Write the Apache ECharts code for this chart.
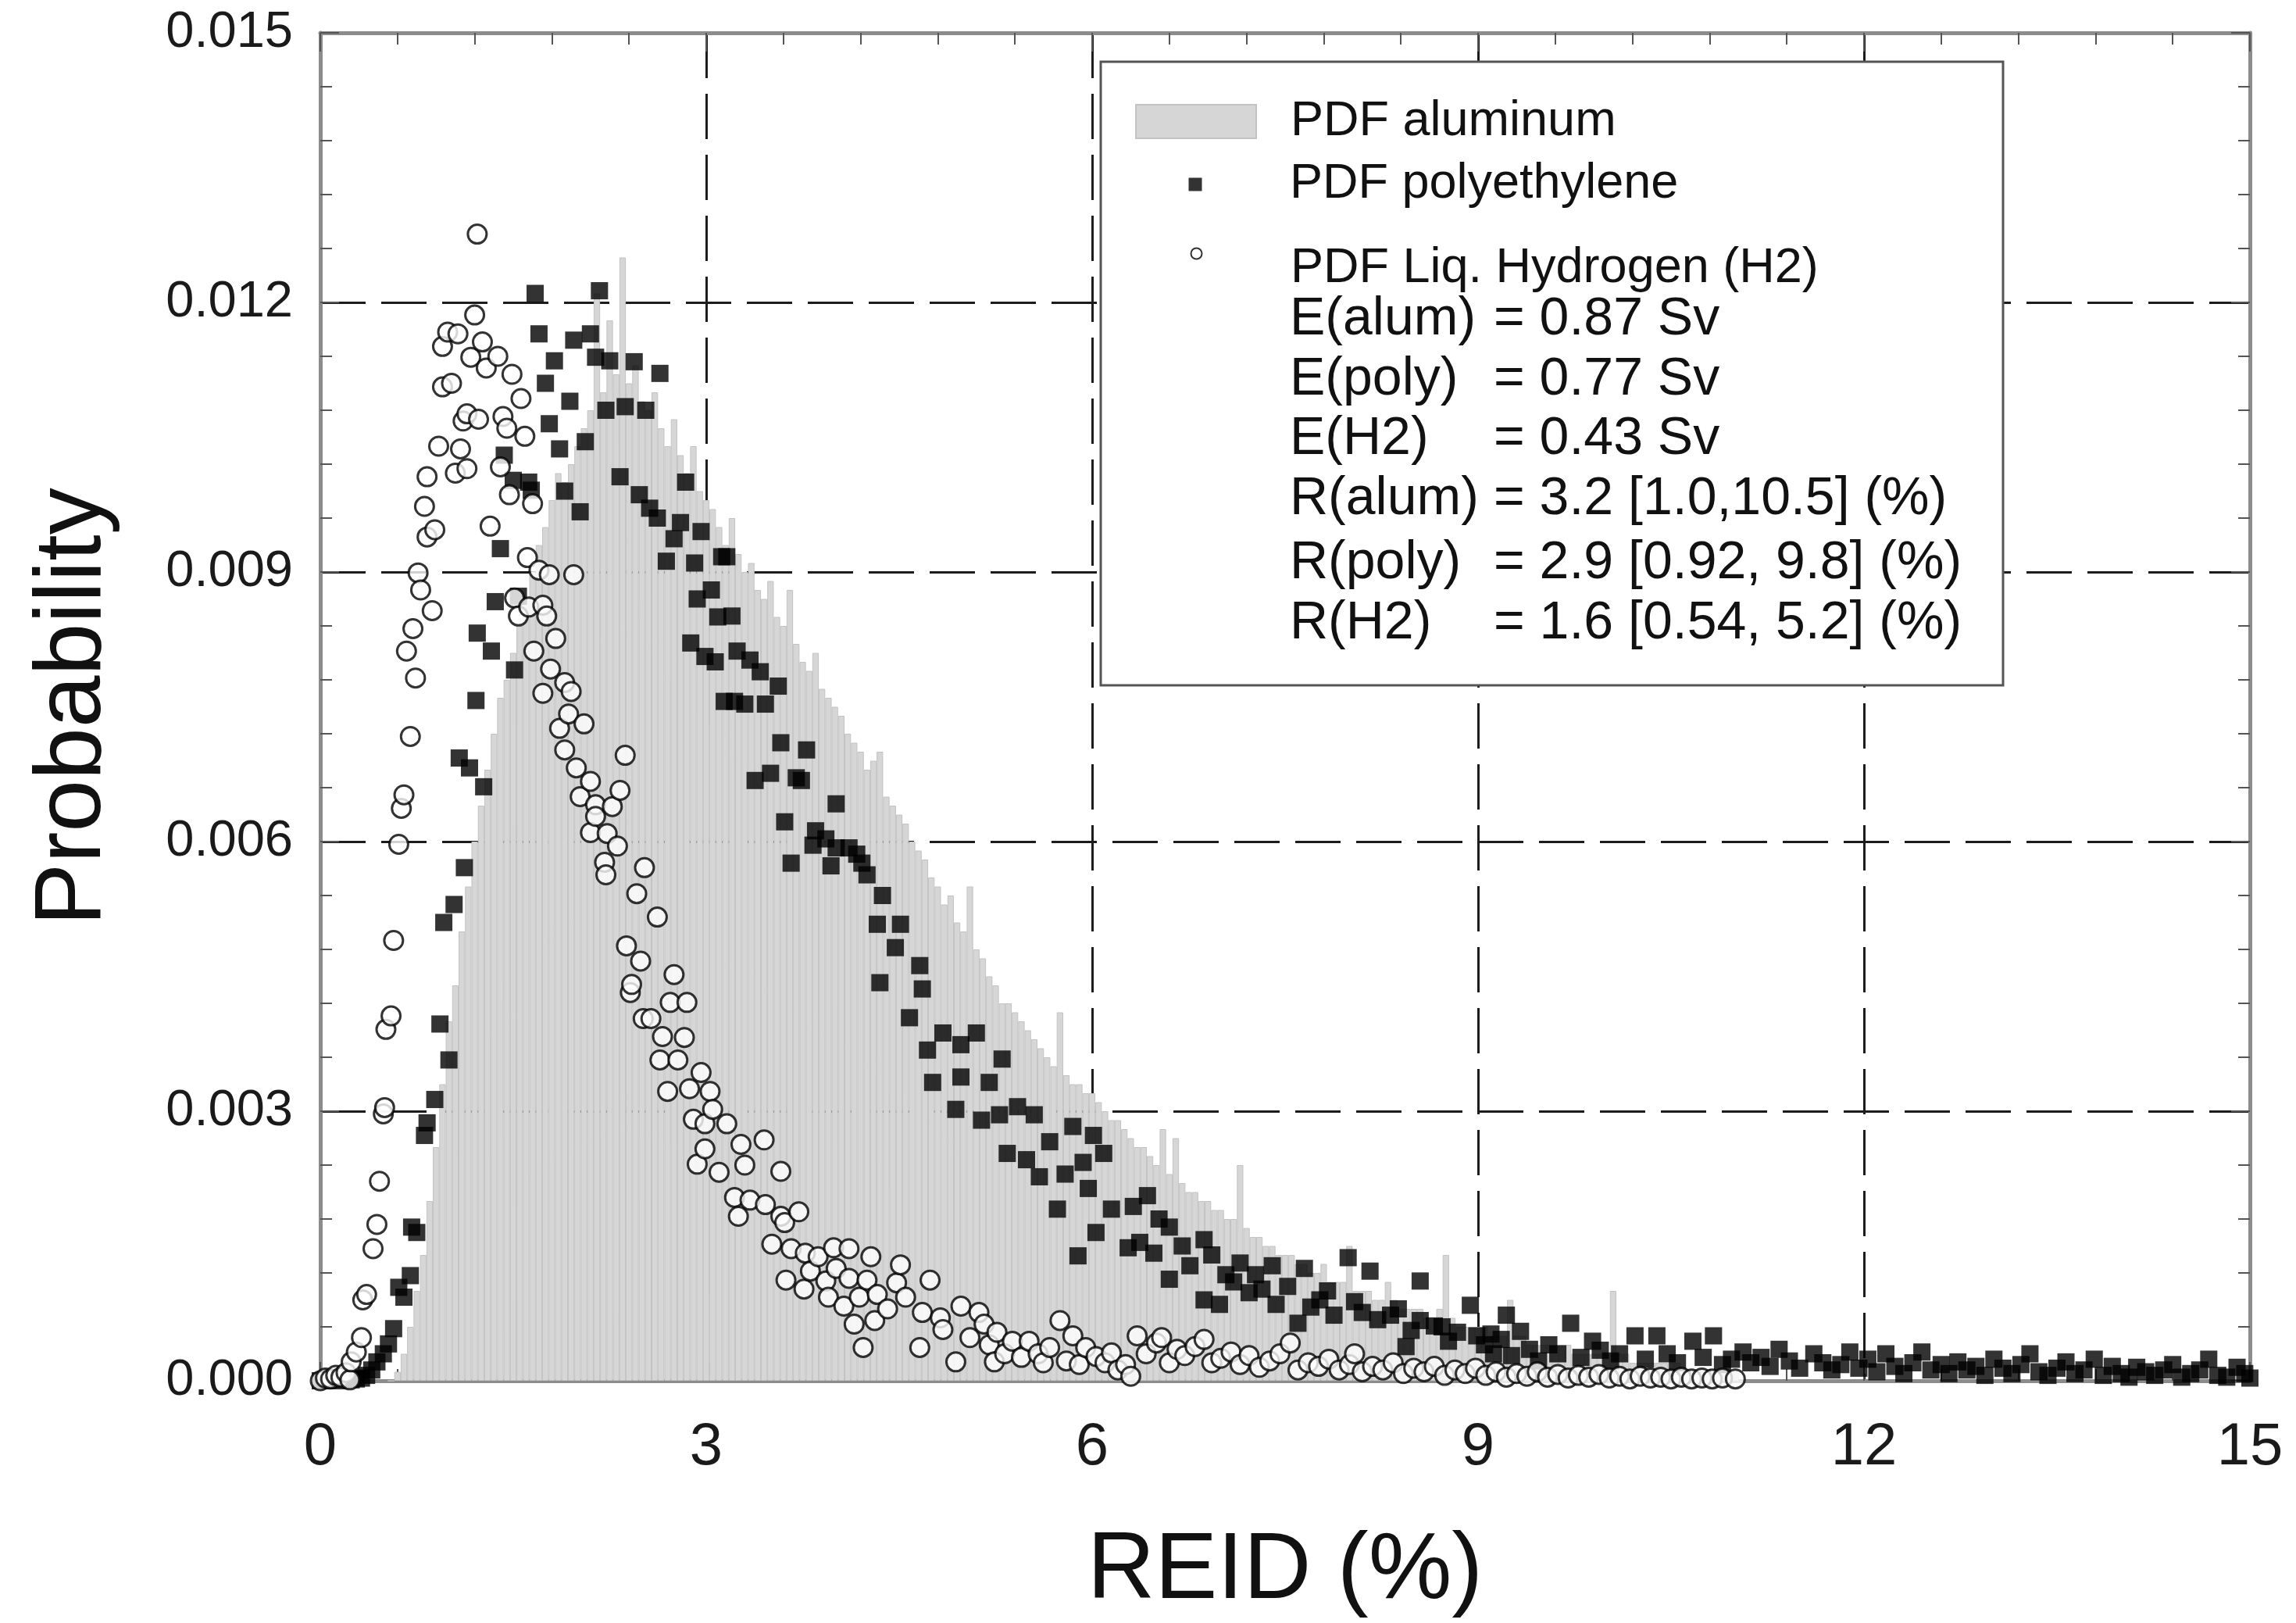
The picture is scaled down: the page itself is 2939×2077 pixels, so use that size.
<!DOCTYPE html>
<html>
<head>
<meta charset="utf-8">
<script src="https://cdn.jsdelivr.net/npm/echarts/dist/echarts.min.js"></script>
<style>
html,body{margin:0;padding:0;background:#ffffff;}
#chart{width:2939px;height:2077px;}
</style>
</head>
<body>
<div id="chart"></div>
<script>
// ---------------- DATA ----------------
const xTickValues = [0, 3, 6, 9, 12, 15];
const yTickLabels = ["0.000", "0.003", "0.006", "0.009", "0.012", "0.015"];

// Aluminum histogram: first bin centre and bin width, then bar heights
const alumBinStart = 0.55;
const alumBinStep = 0.05;
const alumValues = [
  0.0000,0.0001,0.0003,0.0006,0.0010,0.0014,0.0020,0.0026,0.0033,0.0040,
  0.0044,0.0050,0.0055,0.0060,0.0064,0.0068,0.0072,0.0076,0.0078,0.0081,
  0.0084,0.0087,0.0090,0.0093,0.0095,0.0098,0.0101,0.0100,0.0102,0.0104,
  0.0106,0.0108,0.0121,0.0110,0.0118,0.0112,0.0125,0.0111,0.0113,0.0109,
  0.0108,0.0110,0.0106,0.0104,0.0107,0.0103,0.0101,0.0104,0.0099,0.0098,
  0.0097,0.0095,0.0093,0.0096,0.0092,0.0090,0.0091,0.0088,0.0087,0.0089,
  0.0085,0.0084,0.0088,0.0082,0.0080,0.0079,0.0081,0.0077,0.0076,0.0075,
  0.0074,0.0072,0.0071,0.0070,0.0068,0.0069,0.0070,0.0065,0.0064,0.0063,
  0.0062,0.0060,0.0059,0.0058,0.0056,0.0055,0.0053,0.0054,0.0051,0.0050,
  0.0055,0.0048,0.0047,0.0045,0.0044,0.0042,0.0042,0.0041,0.0040,0.0039,
  0.0038,0.0037,0.0036,0.0035,0.0041,0.0034,0.0033,0.0033,0.0032,0.0032,
  0.0031,0.0030,0.0029,0.0029,0.0028,0.0027,0.0026,0.0026,0.0025,0.0024,
  0.0028,0.0023,0.0027,0.0022,0.0021,0.0021,0.0020,0.0020,0.0019,0.0019,
  0.0018,0.0018,0.0024,0.0017,0.0016,0.0016,0.0015,0.0015,0.0014,0.0014,
  0.0014,0.0013,0.0013,0.0012,0.0012,0.0013,0.0011,0.0011,0.0011,0.0015,
  0.0010,0.0010,0.0010,0.0009,0.0009,0.0011,0.0009,0.0008,0.0008,0.0008,
  0.0008,0.0007,0.0007,0.0008,0.0014,0.0007,0.0006,0.0006,0.0006,0.0006,
  0.0006,0.0005,0.0005,0.0005,0.0009,0.0005,0.0005,0.0004,0.0004,0.0004,
  0.0004,0.0004,0.0004,0.0004,0.0003,0.0003,0.0003,0.0003,0.0003,0.0003,
  0.0010,0.0003,0.0003,0.0002,0.0002,0.0002,0.0002,0.0002,0.0002,0.0002,
  0.0002,0.0001,0.0001,0.0001,0.0001,0.0001,0.0001,0.0001,0.0001,0.0001
];

// Polyethylene PDF points [REID %, probability]
const polyPoints = [
  [0.00,0.00000],[0.03,0.00000],[0.06,0.00001],[0.10,0.00002],[0.14,0.00000],[0.18,0.00002],
  [0.24,0.00001],[0.28,0.00002],[0.32,0.00003],[0.36,0.00006],[0.40,0.00012],[0.44,0.00021],
  [0.49,0.00030],[0.53,0.00041],[0.57,0.00058],[0.61,0.00104],[0.65,0.00093],[0.70,0.00117],
  [0.71,0.00171],[0.75,0.00165],[0.81,0.00273],[0.83,0.00287],[0.89,0.00313],[0.93,0.00397],
  [0.96,0.00510],[1.00,0.00357],[1.04,0.00530],[1.08,0.00693],[1.12,0.00571],[1.16,0.00682],
  [1.21,0.00757],[1.22,0.00832],[1.27,0.00661],[1.33,0.00812],[1.36,0.00867],[1.40,0.00926],
  [1.43,0.01030],[1.50,0.01002],[1.51,0.00791],[1.54,0.00873],[1.62,0.01000],[1.64,0.00991],
  [1.67,0.01210],[1.70,0.01165],[1.75,0.01110],[1.78,0.01065],[1.82,0.01135],[1.86,0.01037],
  [1.90,0.00990],[1.94,0.01090],[1.97,0.01158],[2.02,0.00967],[2.06,0.01045],[2.10,0.01165],
  [2.14,0.01139],[2.17,0.01213],[2.22,0.01080],[2.25,0.01135],[2.33,0.01006],[2.37,0.01084],
  [2.44,0.01134],[2.48,0.00986],[2.53,0.01080],[2.56,0.00971],[2.62,0.00960],[2.64,0.01121],
  [2.69,0.00912],[2.75,0.00937],[2.80,0.00955],[2.84,0.01000],[2.88,0.00821],[2.91,0.00910],
  [2.93,0.00870],[2.96,0.00945],[2.99,0.00806],[3.04,0.00880],[3.07,0.00800],[3.09,0.00850],
  [3.12,0.00917],[3.14,0.00756],[3.16,0.00917],[3.20,0.00851],[3.22,0.00756],[3.24,0.00812],
  [3.30,0.00753],[3.34,0.00802],[3.38,0.00668],[3.42,0.00789],[3.46,0.00753],[3.50,0.00676],
  [3.56,0.00773],[3.58,0.00710],[3.61,0.00622],[3.66,0.00576],[3.70,0.00671],[3.74,0.00668],
  [3.78,0.00702],[3.83,0.00596],[3.85,0.00612],[3.93,0.00603],[3.97,0.00573],[4.01,0.00642],
  [4.01,0.00593],[4.11,0.00593],[4.17,0.00586],[4.21,0.00576],[4.25,0.00563],[4.33,0.00508],
  [4.35,0.00443],[4.37,0.00540],[4.47,0.00482],[4.51,0.00508],[4.58,0.00404],[4.66,0.00462],
  [4.68,0.00436],[4.72,0.00368],[4.76,0.00332],[4.84,0.00387],[4.94,0.00302],[4.98,0.00374],
  [4.98,0.00338],[5.10,0.00387],[5.14,0.00290],[5.20,0.00332],[5.28,0.00296],[5.30,0.00358],
  [5.34,0.00253],[5.42,0.00305],[5.49,0.00246],[5.55,0.00296],[5.59,0.00227],[5.67,0.00266],
  [5.73,0.00191],[5.79,0.00230],[5.85,0.00283],[5.89,0.00139],[5.93,0.00243],[5.97,0.00214],
  [6.01,0.00273],[6.03,0.00165],[6.09,0.00253],[6.15,0.00191],[6.28,0.00148],[6.32,0.00194],
  [6.37,0.00154],[6.43,0.00206],[6.48,0.00142],[6.52,0.00180],[6.60,0.00171],[6.60,0.00113],
  [6.70,0.00150],[6.76,0.00128],[6.87,0.00157],[6.87,0.00090],[6.93,0.00140],[6.99,0.00085],
  [7.04,0.00118],[7.10,0.00110],[7.15,0.00131],[7.22,0.00098],[7.27,0.00118],[7.32,0.00102],
  [7.40,0.00128],[7.43,0.00085],[7.52,0.00105],[7.60,0.00064],[7.65,0.00125],[7.70,0.00082],
  [7.77,0.00090],[7.83,0.00100],[7.88,0.00073],[7.99,0.00137],[8.04,0.00088],[8.10,0.00076],
  [8.16,0.00122],[8.22,0.00068],[8.32,0.00073],[8.38,0.00080],[8.44,0.00038],[8.48,0.00056],
  [8.55,0.00111],[8.55,0.00067],[8.66,0.00061],[8.72,0.00060],[8.77,0.00044],[8.84,0.00054],
  [8.94,0.00084],[8.99,0.00050],[9.05,0.00040],[9.10,0.00052],[9.12,0.00030],[9.18,0.00046],
  [9.22,0.00073],[9.26,0.00028],[9.33,0.00055],[9.40,0.00035],[9.47,0.00022],[9.55,0.00040],
  [9.62,0.00030],[9.72,0.00064],[9.80,0.00026],[9.89,0.00044],[9.95,0.00034],[10.03,0.00022],
  [10.10,0.00030],[10.22,0.00050],[10.30,0.00024],[10.39,0.00050],[10.47,0.00030],[10.55,0.00020],
  [10.67,0.00044],[10.75,0.00026],[10.83,0.00050],[10.90,0.00018],[10.97,0.00024],[11.06,0.00032],
  [11.12,0.00020],[11.20,0.00026],[11.27,0.00016],[11.34,0.00035],[11.42,0.00022],[11.50,0.00014],
  [11.61,0.00030],[11.68,0.00020],[11.75,0.00012],[11.82,0.00018],[11.89,0.00032],[11.96,0.00014],
  [12.03,0.00024],[12.10,0.00010],[12.17,0.00030],[12.24,0.00016],[12.31,0.00008],[12.38,0.00020],
  [12.45,0.00032],[12.52,0.00012],[12.60,0.00018],[12.66,0.00008],[12.73,0.00021],[12.80,0.00012],
  [12.87,0.00016],[12.94,0.00006],[13.01,0.00024],[13.08,0.00014],[13.15,0.00008],[13.22,0.00018],
  [13.29,0.00030],[13.36,0.00010],[13.43,0.00006],[13.50,0.00014],[13.57,0.00021],[13.64,0.00008],
  [13.71,0.00012],[13.79,0.00024],[13.86,0.00006],[13.93,0.00016],[14.00,0.00008],[14.06,0.00004],
  [14.12,0.00015],[14.19,0.00010],[14.26,0.00006],[14.33,0.00012],[14.40,0.00018],[14.47,0.00004],
  [14.54,0.00008],[14.61,0.00012],[14.68,0.00024],[14.75,0.00006],[14.82,0.00004],[14.90,0.00015],
  [14.96,0.00008],[15.00,0.00003]
];

// Liquid hydrogen PDF points [REID %, probability]
const h2Points = [
  [0.00,0.00000],[0.04,0.00003],[0.08,0.00002],[0.12,0.00006],[0.16,0.00004],[0.20,0.00009],
  [0.23,0.00001],[0.24,0.00021],[0.28,0.00032],[0.32,0.00048],[0.33,0.00090],[0.36,0.00096],
  [0.41,0.00147],[0.44,0.00174],[0.46,0.00222],[0.49,0.00297],[0.50,0.00304],[0.51,0.00391],
  [0.55,0.00406],[0.57,0.00490],[0.61,0.00597],[0.63,0.00637],[0.65,0.00652],[0.67,0.00812],
  [0.70,0.00717],[0.72,0.00837],[0.74,0.00782],[0.76,0.00899],[0.78,0.00880],[0.81,0.00973],
  [0.83,0.01006],[0.83,0.00939],[0.87,0.00857],[0.89,0.00947],[0.92,0.01040],[0.95,0.01151],
  [0.95,0.01106],[0.99,0.01167],[1.02,0.01110],[1.05,0.01010],[1.07,0.01165],[1.09,0.01037],
  [1.11,0.01068],[1.14,0.01076],[1.14,0.01015],[1.17,0.01139],[1.20,0.01186],[1.22,0.01276],
  [1.23,0.01070],[1.26,0.01156],[1.29,0.01127],[1.32,0.00951],[1.38,0.01140],[1.40,0.01017],
  [1.42,0.01073],[1.45,0.01060],[1.47,0.00986],[1.49,0.01120],[1.51,0.00871],[1.54,0.00851],
  [1.56,0.01093],[1.59,0.01051],[1.61,0.00916],[1.62,0.00861],[1.65,0.00976],[1.66,0.00812],
  [1.70,0.00902],[1.73,0.00863],[1.73,0.00765],[1.76,0.00851],[1.78,0.00897],[1.79,0.00792],
  [1.83,0.00826],[1.86,0.00726],[1.90,0.00777],[1.90,0.00702],[1.93,0.00742],[1.95,0.00767],
  [1.97,0.00897],[1.99,0.00682],[2.02,0.00650],[2.05,0.00731],[2.10,0.00667],[2.10,0.00610],
  [2.14,0.00641],[2.14,0.00628],[2.21,0.00577],[2.22,0.00563],[2.23,0.00609],[2.27,0.00639],
  [2.31,0.00595],[2.33,0.00657],[2.37,0.00696],[2.38,0.00484],[2.41,0.00432],[2.42,0.00441],
  [2.46,0.00542],[2.49,0.00467],[2.51,0.00403],[2.52,0.00571],[2.57,0.00403],[2.62,0.00516],
  [2.64,0.00357],[2.66,0.00383],[2.70,0.00322],[2.72,0.00421],[2.75,0.00452],[2.78,0.00357],
  [2.83,0.00382],[2.85,0.00421],[2.87,0.00325],[2.90,0.00291],[2.93,0.00241],[2.96,0.00343],
  [2.99,0.00286],[2.99,0.00258],[3.03,0.00322],[3.05,0.00302],[3.10,0.00232],[3.16,0.00286],
  [3.22,0.00204],[3.25,0.00183],[3.27,0.00263],[3.30,0.00240],[3.34,0.00201],[3.45,0.00268],
  [3.46,0.00196],[3.51,0.00152],[3.58,0.00233],[3.58,0.00183],[3.61,0.00176],[3.62,0.00112],
  [3.66,0.00147],[3.72,0.00188],[3.76,0.00102],[3.77,0.00142],[3.81,0.00122],[3.87,0.00138],
  [3.93,0.00111],[3.95,0.00093],[3.99,0.00148],[4.01,0.00125],[4.07,0.00083],[4.11,0.00147],
  [4.11,0.00114],[4.15,0.00063],[4.19,0.00093],[4.22,0.00037],[4.25,0.00112],[4.28,0.00138],
  [4.31,0.00067],[4.33,0.00096],[4.41,0.00080],[4.48,0.00109],[4.51,0.00129],[4.55,0.00093],
  [4.66,0.00037],[4.68,0.00076],[4.74,0.00112],[4.82,0.00070],[4.84,0.00057],[4.94,0.00021],
  [4.98,0.00083],[5.05,0.00048],[5.12,0.00076],[5.16,0.00063],[5.20,0.00040],[5.24,0.00021],
  [5.26,0.00054],[5.32,0.00030],[5.38,0.00044],[5.45,0.00026],[5.51,0.00044],[5.58,0.00030],
  [5.62,0.00020],[5.67,0.00037],[5.75,0.00067],[5.80,0.00022],[5.85,0.00050],[5.90,0.00018],
  [5.95,0.00037],[6.03,0.00027],[6.10,0.00020],[6.15,0.00031],[6.20,0.00012],[6.26,0.00018],
  [6.30,0.00005],[6.35,0.00050],[6.42,0.00030],[6.50,0.00042],[6.54,0.00048],[6.60,0.00020],
  [6.66,0.00035],[6.72,0.00028],[6.80,0.00038],[6.87,0.00046],[6.93,0.00020],[7.00,0.00025],
  [7.08,0.00032],[7.15,0.00018],[7.22,0.00028],[7.30,0.00015],[7.38,0.00022],[7.46,0.00030],
  [7.54,0.00042],[7.60,0.00012],[7.68,0.00020],[7.76,0.00016],[7.84,0.00024],[7.92,0.00012],
  [8.00,0.00018],[8.04,0.00030],[8.10,0.00010],[8.18,0.00016],[8.26,0.00012],[8.34,0.00020],
  [8.42,0.00008],[8.50,0.00014],[8.58,0.00010],[8.66,0.00016],[8.74,0.00006],[8.82,0.00012],
  [8.90,0.00008],[8.98,0.00014],[9.06,0.00006],[9.14,0.00010],[9.22,0.00004],[9.30,0.00008],
  [9.38,0.00005],[9.46,0.00010],[9.54,0.00004],[9.62,0.00007],[9.70,0.00003],[9.78,0.00006],
  [9.86,0.00004],[9.94,0.00007],[10.02,0.00003],[10.10,0.00005],[10.18,0.00002],[10.26,0.00005],
  [10.34,0.00003],[10.42,0.00004],[10.50,0.00002],[10.58,0.00004],[10.66,0.00002],[10.74,0.00003],
  [10.82,0.00002],[10.90,0.00003],[11.00,0.00002]
];

const seriesNames = ["PDF aluminum", "PDF polyethylene", "PDF Liq. Hydrogen (H2)"];
const statLabels = ["E(alum)", "E(poly)", "E(H2)", "R(alum)", "R(poly)", "R(H2)"];
const statValues = ["= 0.87 Sv", "= 0.77 Sv", "= 0.43 Sv",
                    "= 3.2 [1.0,10.5] (%)", "= 2.9 [0.92, 9.8] (%)", "= 1.6 [0.54, 5.2] (%)"];
const xAxisTitle = "REID (%)";
const yAxisTitle = "Probability";

// ---------------- BUILD ----------------
const alumData = alumValues.map((v, i) => [+(alumBinStart + i * alumBinStep).toFixed(3), v]);

const W = 2939, H = 2077;
const G = {left: 410, top: 42, right: 59, bottom: 310};
const plotW = W - G.left - G.right;
const xMin = 0, xMax = 15;
const barPx = plotW * alumBinStep / (xMax - xMin);

const FONT = '"Liberation Sans", Arial, Helvetica, sans-serif';
const frameColor = '#8c8c8c';
const tickColor = '#555555';
const gridColor = '#1c1c1c';

const axisTick = {show: true, inside: true, length: 24, lineStyle: {color: tickColor, width: 2}};
const minorTick = {show: true, splitNumber: 5, length: 15, lineStyle: {color: tickColor, width: 2}};
const axisLine = {show: true, onZero: false, lineStyle: {color: frameColor, width: 5}};
const splitLine = {show: true, showMinLine: false, showMaxLine: false,
                   lineStyle: {color: gridColor, width: 3, type: [58, 20]}};

const chart = echarts.init(document.getElementById('chart'), null, {renderer: 'canvas', width: W, height: H});

// legend box text lines
const statBaselines = [432, 509, 585, 662, 744, 821];
const statFontSize = 68;
const graphicEls = [{
  type: 'rect', z: 10,
  shape: {x: 1409, y: 79, width: 1155, height: 798},
  style: {fill: '#ffffff', stroke: '#555555', lineWidth: 3}
}];
statLabels.forEach((lab, i) => {
  const yMid = statBaselines[i] - 0.33 * statFontSize;
  graphicEls.push({type: 'text', z: 20, x: 1651, y: yMid,
    style: {text: lab, font: statFontSize + 'px ' + FONT, fill: '#111111', align: 'left', verticalAlign: 'middle'}});
  graphicEls.push({type: 'text', z: 20, x: 1912, y: yMid,
    style: {text: statValues[i], font: statFontSize + 'px ' + FONT, fill: '#111111', align: 'left', verticalAlign: 'middle'}});
});

const legendText = {fontSize: 63, fontFamily: FONT, color: '#111111', lineHeight: 63};

const option = {
  animation: false,
  backgroundColor: '#ffffff',
  grid: {left: G.left, top: G.top, right: G.right, bottom: G.bottom, containLabel: false, outerBoundsMode: 'none'},
  legend: [
    {data: [seriesNames[0]], left: 1453, top: 124, itemWidth: 154, itemHeight: 43, icon: 'rect',
     selectedMode: false, padding: 0, itemGap: 0, z: 20,
     textStyle: Object.assign({}, legendText, {padding: [0, 0, 0, 39]})},
    {data: [seriesNames[1]], left: 1521.5, top: 204.5, itemWidth: 17, itemHeight: 17,
     selectedMode: false, padding: 0, itemGap: 0, z: 20,
     textStyle: Object.assign({}, legendText, {padding: [0, 0, 0, 107.5]})},
    {data: [seriesNames[2]], left: 1523.5, top: 288, itemWidth: 14, itemHeight: 14,
     selectedMode: false, padding: 0, itemGap: 0, z: 20,
     formatter: name => '{s| }\n{t|' + name + '}',
     textStyle: {padding: [0, 0, 0, 108.5], fontSize: 63, fontFamily: FONT, color: '#111111',
       rich: {s: {fontSize: 10, lineHeight: 38},
              t: {fontSize: 63, fontFamily: FONT, color: '#111111', lineHeight: 63}}}}
  ],
  xAxis: [
    {type: 'value', position: 'bottom', min: xMin, max: xMax, interval: 3,
     axisLine, axisTick, minorTick, splitLine,
     axisLabel: {show: true, margin: 48, fontSize: 76, fontFamily: FONT, color: '#1a1a1a',
                 formatter: v => String(xTickValues[xTickValues.indexOf(v)] ?? v)},
     name: xAxisTitle, nameLocation: 'middle', nameGap: 185, nameMoveOverlap: false,
     nameTextStyle: {fontSize: 120, fontFamily: FONT, color: '#111111'}},
    {type: 'value', position: 'top', min: xMin, max: xMax, interval: 3,
     axisLine, axisTick, minorTick, splitLine: {show: false}, axisLabel: {show: false}}
  ],
  yAxis: [
    {type: 'value', position: 'left', min: 0, max: 0.015, interval: 0.003,
     axisLine, axisTick, minorTick, splitLine,
     axisLabel: {show: true, margin: 35, fontSize: 65, fontFamily: FONT, color: '#1a1a1a',
                 formatter: v => yTickLabels[Math.round(v / 0.003)]},
     name: yAxisTitle, nameLocation: 'middle', nameGap: 255, nameRotate: 90, nameMoveOverlap: false,
     nameTextStyle: {fontSize: 120, fontFamily: FONT, color: '#111111'}},
    {type: 'value', position: 'right', min: 0, max: 0.015, interval: 0.003,
     axisLine, axisTick, minorTick, splitLine: {show: false}, axisLabel: {show: false}}
  ],
  series: [
    {name: seriesNames[0], type: 'bar', xAxisIndex: 0, yAxisIndex: 0, data: alumData,
     barWidth: barPx, z: 1, silent: true,
     itemStyle: {color: '#d6d6d6', borderColor: '#c3c3c3', borderWidth: 1}},
    {name: seriesNames[1], type: 'scatter', xAxisIndex: 0, yAxisIndex: 0, data: polyPoints,
     symbol: 'rect', symbolSize: 22, z: 3, silent: true,
     itemStyle: {color: '#000000'}},
    {name: seriesNames[2], type: 'scatter', xAxisIndex: 0, yAxisIndex: 0, data: h2Points,
     symbol: 'circle', symbolSize: 24, z: 4, silent: true,
     itemStyle: {color: '#ffffff', borderColor: '#000000', borderWidth: 3}}
  ],
  graphic: {elements: graphicEls}
};
chart.setOption(option);
</script>
</body>
</html>
